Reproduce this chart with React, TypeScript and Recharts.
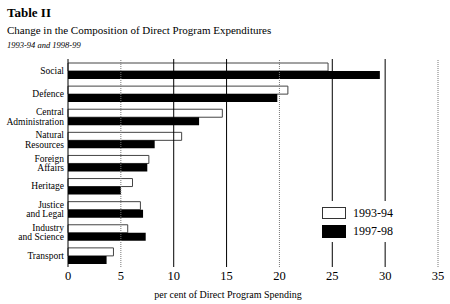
import React from 'react';
import { BarChart, Bar, XAxis, YAxis, ReferenceLine } from 'recharts';

const categories = [
  'Social',
  'Defence',
  'Central\nAdministration',
  'Natural\nResources',
  'Foreign\nAffairs',
  'Heritage',
  'Justice\nand Legal',
  'Industry\nand Science',
  'Transport',
];
const share9394 = [24.6, 20.8, 14.6, 10.75, 7.65, 6.1, 6.85, 5.65, 4.3];
const share9798 = [29.5, 19.8, 12.4, 8.2, 7.5, 5.0, 7.1, 7.35, 3.65];
const seriesNames = ['1993-94', '1997-98'];
const xTicks = [0, 5, 10, 15, 20, 25, 30, 35];
const dottedTicks = [5, 20, 35];

const data = categories.map((name, i) => ({
  name,
  a: share9394[i],
  b: share9798[i],
}));

const serif = "'Liberation Serif', 'DejaVu Serif', serif";

function CategoryTick(props: any) {
  const { x, y, payload } = props;
  const lines = String(payload.value).split('\n');
  const lh = 9.5;
  const start = y - ((lines.length - 1) * lh) / 2;
  return (
    <text x={x} textAnchor="end" style={{ fontSize: 9.5, fontFamily: serif }} fill="#000">
      {lines.map((l, i) => (
        <tspan key={i} x={x} y={start + i * lh} dy="0.35em">
          {l}
        </tspan>
      ))}
    </text>
  );
}

function ValueTick(props: any) {
  const { x, y, payload } = props;
  return (
    <text x={x} y={y} dy="0.71em" textAnchor="middle" style={{ fontSize: 12.5, fontFamily: serif }} fill="#000">
      {payload.value}
    </text>
  );
}

export default function App() {
  return (
    <div style={{ position: 'absolute', left: 0, top: 0, width: 450, height: 304, background: '#fff', fontFamily: serif }}>
      <div style={{ position: 'absolute', left: 7, top: 5, fontSize: 13, fontWeight: 'bold', lineHeight: '15px' }}>Table II</div>
      <div style={{ position: 'absolute', left: 7, top: 24, fontSize: 11, lineHeight: '13px' }}>
        Change in the Composition of Direct Program Expenditures
      </div>
      <div style={{ position: 'absolute', left: 7, top: 40, fontSize: 8.5, fontStyle: 'italic', lineHeight: '10px' }}>
        1993-94 and 1998-99
      </div>
      <BarChart
        width={450}
        height={304}
        data={data}
        layout="vertical"
        margin={{ top: 59, right: 12, left: 0, bottom: 0 }}
        barGap={0}
        barSize={8}
        style={{ position: 'absolute', left: 0, top: 0 }}
      >
        <XAxis
          type="number"
          domain={[0, 35]}
          ticks={xTicks}
          axisLine={false}
          tickLine={false}
          tickSize={0}
          tickMargin={4}
          height={37}
          tick={<ValueTick />}
        />
        <YAxis
          type="category"
          dataKey="name"
          width={68}
          axisLine={false}
          tickLine={false}
          tickSize={0}
          tickMargin={4}
          interval={0}
          tick={<CategoryTick />}
        />
        {xTicks.map((t) => (
          <ReferenceLine
            key={t}
            x={t}
            stroke={dottedTicks.includes(t) ? '#777' : '#000'}
            strokeDasharray={dottedTicks.includes(t) ? '1 1' : undefined}
            strokeWidth={1}
          />
        ))}
        <Bar dataKey="a" name={seriesNames[0]} fill="#fff" stroke="#444" strokeWidth={1} isAnimationActive={false} />
        <Bar dataKey="b" name={seriesNames[1]} fill="#000" isAnimationActive={false} />
      </BarChart>
      <div style={{ position: 'absolute', left: 316, top: 201, width: 80, height: 41, background: '#fff' }}>
        <div style={{ position: 'absolute', left: 6, top: 6, width: 22, height: 10, background: '#fff', border: '1px solid #333' }} />
        <div style={{ position: 'absolute', left: 37, top: 5, fontSize: 12, lineHeight: '14px' }}>{seriesNames[0]}</div>
        <div style={{ position: 'absolute', left: 6, top: 24, width: 24, height: 13, background: '#000' }} />
        <div style={{ position: 'absolute', left: 37, top: 23, fontSize: 12, lineHeight: '14px' }}>{seriesNames[1]}</div>
      </div>
      <div style={{ position: 'absolute', left: 128, width: 200, textAlign: 'center', top: 289, fontSize: 10, lineHeight: '12px' }}>
        per cent of Direct Program Spending
      </div>
    </div>
  );
}
